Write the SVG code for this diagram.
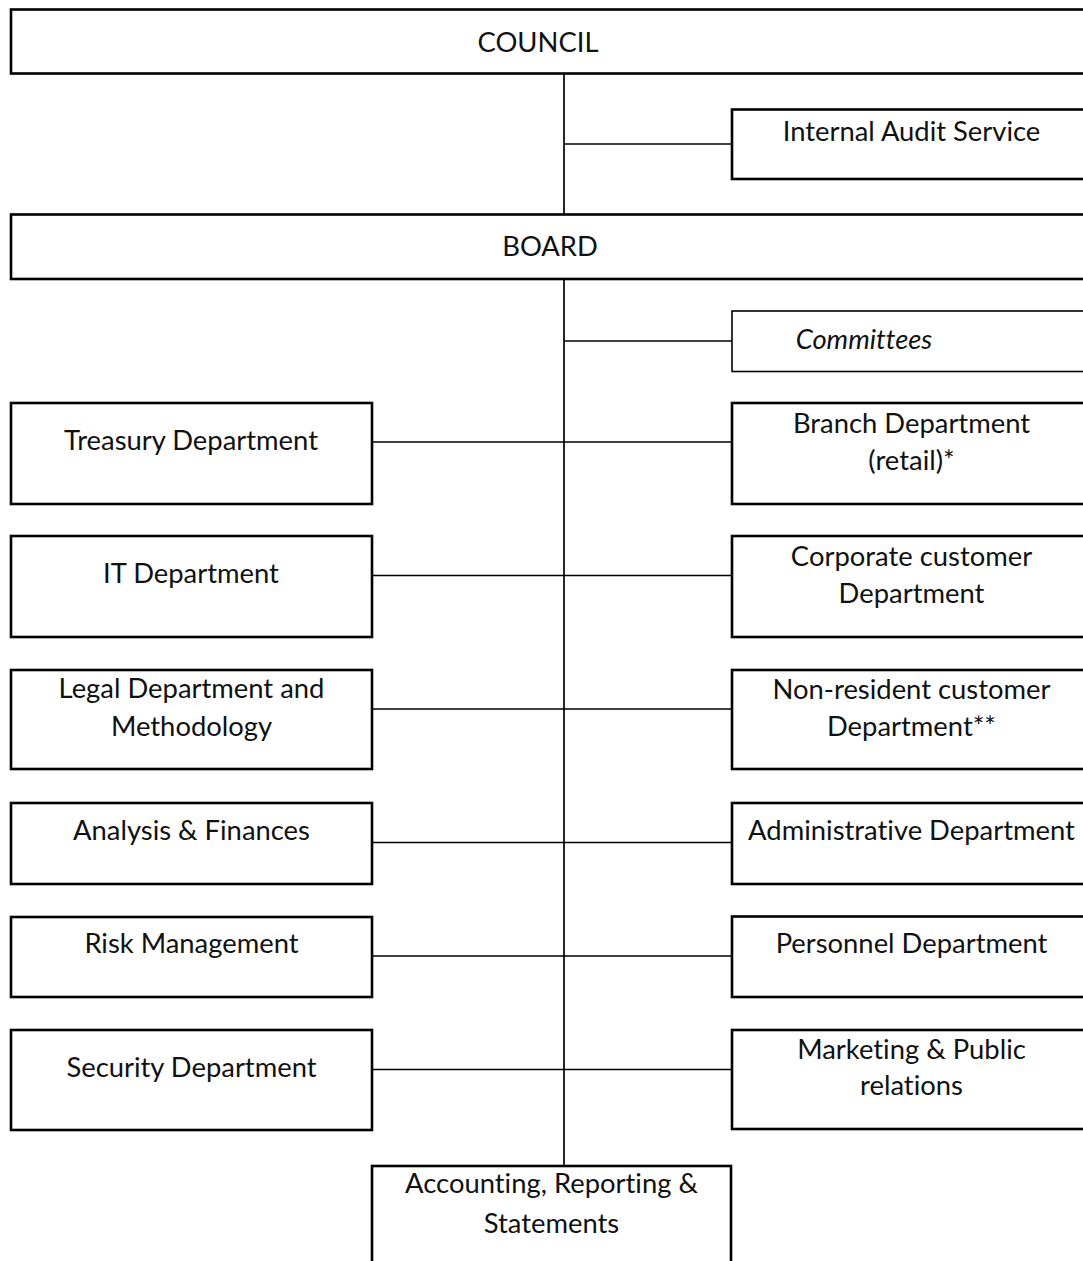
<svg xmlns="http://www.w3.org/2000/svg" width="1083" height="1261" viewBox="0 0 1083 1261">
<style>
.box{fill:#fff;stroke:#000;stroke-width:2.6}
.thin{stroke-width:1.6}
.lbl{font-family:Lato,"Open Sans",sans-serif;font-size:27.4px;fill:#111;text-anchor:middle;font-variant-ligatures:none;font-feature-settings:"liga" 0,"clig" 0}
.it{font-style:italic}
.conn line{stroke:#000;stroke-width:1.7}
</style>
<rect width="1083" height="1261" fill="#fff"/>
<g id="connectors" class="conn">
<line x1="564" y1="74" x2="564" y2="214.5"/>
<line x1="564" y1="279" x2="564" y2="1166"/>
<line x1="564" y1="144" x2="732" y2="144"/>
<line x1="564" y1="341" x2="732" y2="341"/>
<line x1="372" y1="442" x2="732" y2="442"/>
<line x1="372" y1="575.5" x2="732" y2="575.5"/>
<line x1="372" y1="709" x2="732" y2="709"/>
<line x1="372" y1="842.5" x2="732" y2="842.5"/>
<line x1="372" y1="956" x2="732" y2="956"/>
<line x1="372" y1="1069.5" x2="732" y2="1069.5"/>
</g>
<g id="council"><rect class="box" x="11" y="9.5" width="1090" height="64"/><text class="lbl" x="538" y="52">COUNCIL</text></g>
<g id="audit"><rect class="box" x="732" y="109.5" width="370" height="69.5"/><text class="lbl" x="911.5" y="141">Internal Audit Service</text></g>
<g id="board"><rect class="box" x="11" y="214.5" width="1090" height="64.5"/><text class="lbl" x="550" y="256">BOARD</text></g>
<g id="committees"><rect class="box thin" x="732" y="311" width="370" height="60.5"/><text class="lbl it" x="864" y="349">Committees</text></g>
<g id="treasury"><rect class="box" x="11" y="403" width="361" height="101"/><text class="lbl" x="191" y="449.5">Treasury Department</text></g>
<g id="it-dept"><rect class="box" x="11" y="536" width="361" height="101"/><text class="lbl" x="191" y="583">IT Department</text></g>
<g id="legal"><rect class="box" x="11" y="670" width="361" height="99"/><text class="lbl" x="191.5" y="697.5">Legal Department and</text><text class="lbl" x="191.5" y="735.5">Methodology</text></g>
<g id="analysis"><rect class="box" x="11" y="803" width="361" height="81"/><text class="lbl" x="191.5" y="839.5">Analysis &amp; Finances</text></g>
<g id="risk"><rect class="box" x="11" y="917" width="361" height="80"/><text class="lbl" x="191.5" y="953">Risk Management</text></g>
<g id="security"><rect class="box" x="11" y="1030" width="361" height="100"/><text class="lbl" x="191.5" y="1077">Security Department</text></g>
<g id="branch"><rect class="box" x="732" y="403" width="370" height="101"/><text class="lbl" x="911.5" y="432.5">Branch Department</text><text class="lbl" x="911.5" y="470">(retail)*</text></g>
<g id="corporate"><rect class="box" x="732" y="536" width="370" height="101"/><text class="lbl" x="911.5" y="566">Corporate customer</text><text class="lbl" x="911.5" y="603">Department</text></g>
<g id="nonresident"><rect class="box" x="732" y="670" width="370" height="99"/><text class="lbl" x="911.5" y="698.5">Non-resident customer</text><text class="lbl" x="911.5" y="735.5">Department**</text></g>
<g id="administrative"><rect class="box" x="732" y="803" width="370" height="81"/><text class="lbl" x="911.5" y="839.5">Administrative Department</text></g>
<g id="personnel"><rect class="box" x="732" y="916.5" width="370" height="80.5"/><text class="lbl" x="911.5" y="953">Personnel Department</text></g>
<g id="marketing"><rect class="box" x="732" y="1030" width="370" height="99"/><text class="lbl" x="911.5" y="1058.5">Marketing &amp; Public</text><text class="lbl" x="911.5" y="1095">relations</text></g>
<g id="accounting"><rect class="box" x="372" y="1166" width="359" height="120"/><text class="lbl" x="551.5" y="1193">Accounting, Reporting &amp;</text><text class="lbl" x="551.5" y="1233">Statements</text></g>
</svg>
